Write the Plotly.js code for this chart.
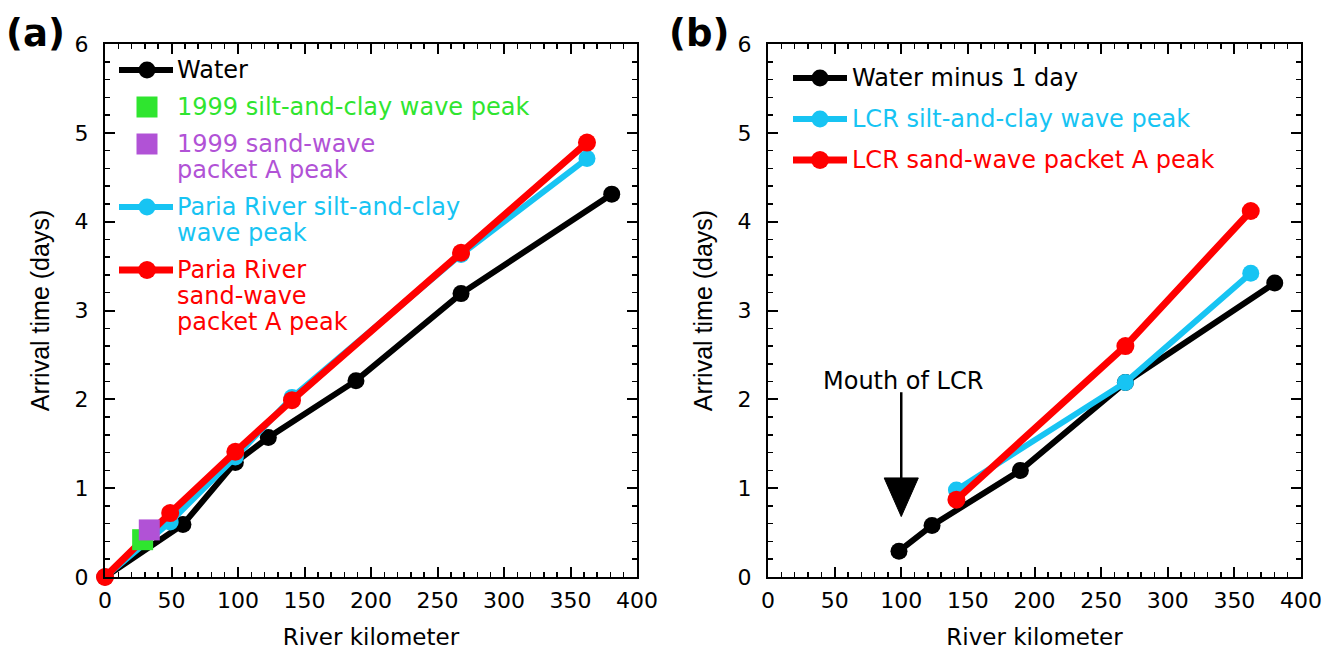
<!DOCTYPE html>
<html>
<head>
<meta charset="utf-8">
<script src="https://cdn.plot.ly/plotly-3.0.1.min.js"></script>
<style>
  html, body { margin: 0; padding: 0; background: #ffffff; }
  #chart { width: 1334px; height: 650px; }
</style>
</head>
<body>
<div id="chart"></div>
<script>
// ---------- data: panel (a) ----------
const waterKmA      = [0, 58.6, 98, 122.8, 188.7, 267.7, 381];
const waterDayA     = [0, 0.59, 1.29, 1.57, 2.21, 3.19, 4.31];
const pariaKm       = [0, 49, 98, 140.6, 267.7, 362.4];
const pariaSiltDay  = [0, 0.62, 1.35, 2.02, 3.63, 4.71];
const pariaSandDay  = [0, 0.72, 1.41, 1.99, 3.65, 4.89];
const silt1999Km    = [28.3];
const silt1999Day   = [0.42];
const sand1999Km    = [33.3];
const sand1999Day   = [0.53];

// ---------- data: panel (b) ----------
const waterKmB        = [98.3, 123.1, 189.4, 268.2, 380.3];
const waterMinus1DayB = [0.29, 0.58, 1.20, 2.19, 3.31];
const lcrKm           = [141.4, 268.2, 362.3];
const lcrSiltDay      = [0.98, 2.19, 3.42];
const lcrSandDay      = [0.87, 2.60, 4.12];

// ---------- tick labels ----------
const xTickVals = [0, 50, 100, 150, 200, 250, 300, 350, 400];
const yTickVals = [0, 1, 2, 3, 4, 5, 6];
const xTitle = 'River kilometer';
const yTitle = 'Arrival time (days)';

// ---------- legend labels ----------
const legendLabelsA = [
  ['Water'],
  ['1999 silt-and-clay wave peak'],
  ['1999 sand-wave', 'packet A peak'],
  ['Paria River silt-and-clay', 'wave peak'],
  ['Paria River', 'sand-wave', 'packet A peak']
];
const legendLabelsB = [
  ['Water minus 1 day'],
  ['LCR silt-and-clay wave peak'],
  ['LCR sand-wave packet A peak']
];
const mouthLabel = 'Mouth of LCR';
const mouthKm = 100;

// ---------- styling ----------
const W = 1334, H = 650;
const FONT = 'DejaVu Sans, Liberation Sans, sans-serif';
const BLACK = '#000000', GREEN = '#2fe52f', PURPLE = '#b152d6',
      CYAN = '#17c4f3', RED = '#ff0000';

// pixel -> paper helpers (figure has zero margins)
const px = v => v / W;
const py = v => 1 - v / H;

const plotTop = 44, plotBottom = 577;
const yDomain = [py(plotBottom), py(plotTop)];

function xAxis(domain, anchor) {
  return {
    domain: domain, anchor: anchor, range: [0, 400],
    tickvals: xTickVals, ticks: 'inside', ticklen: 10, tickwidth: 2, tickcolor: BLACK,
    showline: true, linewidth: 2, linecolor: BLACK, mirror: 'ticks',
    showgrid: false, zeroline: false, automargin: false, fixedrange: true,
    minor: { dtick: 10, tick0: 0, ticks: 'inside', ticklen: 5, tickwidth: 1.5, tickcolor: BLACK, showgrid: false },
    tickfont: { family: FONT, size: 22, color: BLACK },
    ticklabelstandoff: 3,
    title: { text: xTitle, font: { family: FONT, size: 23, color: BLACK }, standoff: 16 }
  };
}
function yAxis(anchor) {
  return {
    domain: yDomain, anchor: anchor, range: [0, 6],
    tickvals: yTickVals, ticks: 'inside', ticklen: 10, tickwidth: 2, tickcolor: BLACK,
    showline: true, linewidth: 2, linecolor: BLACK, mirror: 'ticks',
    showgrid: false, zeroline: false, automargin: false, fixedrange: true,
    minor: { dtick: 0.2, tick0: 0, ticks: 'inside', ticklen: 5, tickwidth: 1.5, tickcolor: BLACK, showgrid: false },
    tickfont: { family: FONT, size: 22, color: BLACK },
    ticklabelstandoff: 10,
    title: { text: yTitle, font: { family: 'Liberation Sans, Arial, sans-serif', size: 25, color: BLACK }, standoff: 18 }
  };
}

function lineTrace(x, y, color, lw, ms, xa, ya) {
  return {
    type: 'scatter', mode: 'lines+markers', x: x, y: y, xaxis: xa, yaxis: ya,
    line: { color: color, width: lw },
    marker: { color: color, size: ms, symbol: 'circle', line: { width: 0 } },
    cliponaxis: false, showlegend: false, hoverinfo: 'x+y'
  };
}
function squareTrace(x, y, color, xa, ya) {
  return {
    type: 'scatter', mode: 'markers', x: x, y: y, xaxis: xa, yaxis: ya,
    marker: { color: color, size: 21, symbol: 'square', line: { width: 0 } },
    cliponaxis: false, showlegend: false, hoverinfo: 'x+y'
  };
}

const traces = [
  lineTrace(waterKmA, waterDayA, BLACK, 6, 17, 'x', 'y'),
  lineTrace(pariaKm, pariaSiltDay, CYAN, 6, 17, 'x', 'y'),
  lineTrace(pariaKm, pariaSandDay, RED, 7, 18, 'x', 'y'),
  squareTrace(silt1999Km, silt1999Day, GREEN, 'x', 'y'),
  squareTrace(sand1999Km, sand1999Day, PURPLE, 'x', 'y'),
  lineTrace(waterKmB, waterMinus1DayB, BLACK, 6, 17, 'x2', 'y2'),
  lineTrace(lcrKm, lcrSiltDay, CYAN, 6, 17, 'x2', 'y2'),
  lineTrace(lcrKm, lcrSandDay, RED, 7, 18, 'x2', 'y2')
];

// ---------- hand-built legends ----------
const shapes = [];
const annotations = [];

function legendLine(x0, x1, y, color, lw) {
  shapes.push({ type: 'line', xref: 'paper', yref: 'paper', x0: px(x0), x1: px(x1), y0: py(y), y1: py(y),
                line: { color: color, width: lw } });
}
function legendDot(x, y, color, d) {
  shapes.push({ type: 'circle', xref: 'paper', yref: 'paper', xsizemode: 'pixel', ysizemode: 'pixel',
                xanchor: px(x), yanchor: py(y), x0: -d / 2, x1: d / 2, y0: -d / 2, y1: d / 2,
                fillcolor: color, line: { width: 0 } });
}
function legendSquare(x, y, color, s) {
  shapes.push({ type: 'rect', xref: 'paper', yref: 'paper', xsizemode: 'pixel', ysizemode: 'pixel',
                xanchor: px(x), yanchor: py(y), x0: -s / 2, x1: s / 2, y0: -s / 2, y1: s / 2,
                fillcolor: color, line: { width: 0 } });
}
function legendText(lines, x, yFirst, step, color) {
  lines.forEach((t, i) => {
    annotations.push({ text: t, xref: 'paper', yref: 'paper', x: px(x), y: py(yFirst + i * step),
                       xanchor: 'left', yanchor: 'middle', showarrow: false, borderpad: 0,
                       font: { family: FONT, size: 24, color: color } });
  });
}

// panel (a) legend
const aSymX = 147, aLine0 = 119, aLine1 = 173, aTextX = 176;
legendLine(aLine0, aLine1, 70, BLACK, 6);   legendDot(aSymX, 70, BLACK, 17);
legendText(legendLabelsA[0], aTextX, 70, 26, BLACK);
legendSquare(aSymX, 107, GREEN, 21);
legendText(legendLabelsA[1], aTextX, 107, 26, GREEN);
legendSquare(aSymX, 144, PURPLE, 21);
legendText(legendLabelsA[2], aTextX, 144, 26, PURPLE);
legendLine(aLine0, aLine1, 207, CYAN, 6);   legendDot(aSymX, 207, CYAN, 17);
legendText(legendLabelsA[3], aTextX, 207, 26, CYAN);
legendLine(aLine0, aLine1, 270, RED, 7);    legendDot(aSymX, 270, RED, 18);
legendText(legendLabelsA[4], aTextX, 270, 26, RED);

// panel (b) legend
const bSymX = 820, bLine0 = 793, bLine1 = 847, bTextX = 851;
legendLine(bLine0, bLine1, 78, BLACK, 6);   legendDot(bSymX, 78, BLACK, 17);
legendText(legendLabelsB[0], bTextX, 78, 26, BLACK);
legendLine(bLine0, bLine1, 119, CYAN, 6);   legendDot(bSymX, 119, CYAN, 17);
legendText(legendLabelsB[1], bTextX, 119, 26, CYAN);
legendLine(bLine0, bLine1, 160, RED, 7);    legendDot(bSymX, 160, RED, 18);
legendText(legendLabelsB[2], bTextX, 160, 26, RED);

// arrow marking the Little Colorado River confluence (panel b, data coordinates)
shapes.push({ type: 'line', xref: 'x2', yref: 'y2', x0: mouthKm, x1: mouthKm, y0: 2.08, y1: 1.0,
              line: { color: BLACK, width: 2.5 } });
shapes.push({ type: 'path', xref: 'x2', yref: 'y2',
              path: `M${mouthKm - 12.8},1.115 L${mouthKm + 12.8},1.115 L${mouthKm},0.68 Z`,
              fillcolor: BLACK, line: { color: BLACK, width: 1 } });
annotations.push({ text: mouthLabel, xref: 'x2', yref: 'y2', x: mouthKm + 1.5, y: 2.21,
                   xanchor: 'center', yanchor: 'middle', showarrow: false, borderpad: 0,
                   font: { family: FONT, size: 24, color: BLACK } });

// panel letters
annotations.push({ text: '<b>(a)</b>', xref: 'paper', yref: 'paper', x: px(35), y: py(34),
                   xanchor: 'center', yanchor: 'middle', showarrow: false,
                   font: { family: FONT, size: 37, color: BLACK } });
annotations.push({ text: '<b>(b)</b>', xref: 'paper', yref: 'paper', x: px(699), y: py(33),
                   xanchor: 'center', yanchor: 'middle', showarrow: false,
                   font: { family: FONT, size: 37, color: BLACK } });

const layout = {
  width: W, height: H,
  margin: { l: 0, r: 0, t: 0, b: 0, pad: 0 },
  paper_bgcolor: '#ffffff', plot_bgcolor: '#ffffff',
  showlegend: false,
  xaxis: xAxis([px(105), px(637)], 'y'),
  yaxis: yAxis('x'),
  xaxis2: xAxis([px(768), px(1301)], 'y2'),
  yaxis2: yAxis('x2'),
  shapes: shapes,
  annotations: annotations,
  font: { family: FONT, color: BLACK }
};

Plotly.newPlot('chart', traces, layout, { displayModeBar: false, staticPlot: true });
</script>
</body>
</html>
